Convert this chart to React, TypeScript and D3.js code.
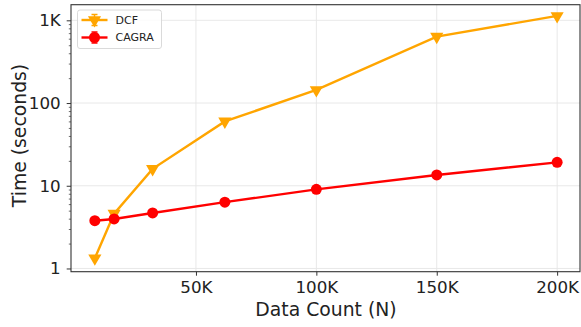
import React, { useEffect, useRef } from 'react';
import * as d3 from 'd3';

// data
const dataCount = [8000, 16000, 32000, 62000, 100000, 150000, 200000];
const dcfTime = [1.33, 4.6, 16, 60, 144, 635, 1130];
const cagraTime = [3.78, 3.97, 4.69, 6.33, 9.05, 13.5, 19.2];
const xTicks = [50000, 100000, 150000, 200000];
const xTickLabels = ['50K', '100K', '150K', '200K'];
const yTicks = [1, 10, 100, 1000];
const yTickLabels = ['1', '10', '100', '1K'];

const W = 581, H = 327;
const margin = { top: 4.7, right: 1, bottom: 55.3, left: 71 };
const FONT = 'DejaVu Sans, sans-serif';

export default function App() {
  const ref = useRef<SVGSVGElement>(null);

  useEffect(() => {
    const svg = d3.select(ref.current);
    svg.selectAll('*').remove();

    const iw = W - margin.left - margin.right;
    const ih = H - margin.top - margin.bottom;

    const x = d3.scaleLinear().domain([-1900, 209500]).range([0, iw]);
    const y = d3.scaleLog().domain([0.914, 1545]).range([ih, 0]);

    const g = svg.append('g').attr('transform', `translate(${margin.left},${margin.top})`);

    // grid
    g.selectAll('.gx').data(xTicks).join('line')
      .attr('x1', d => x(d)).attr('x2', d => x(d)).attr('y1', 0).attr('y2', ih)
      .attr('stroke', '#e5e5e5').attr('stroke-width', 0.9);
    g.selectAll('.gy').data(yTicks).join('line')
      .attr('y1', d => y(d)).attr('y2', d => y(d)).attr('x1', 0).attr('x2', iw)
      .attr('stroke', '#e5e5e5').attr('stroke-width', 0.9);

    // x axis
    const xAxis = g.append('g').attr('transform', `translate(0,${ih})`)
      .call(d3.axisBottom(x).tickValues(xTicks).tickFormat((d, i) => xTickLabels[i]).tickSize(4).tickPadding(5.5));
    xAxis.select('.domain').remove();
    xAxis.selectAll('line').attr('stroke', '#333').attr('stroke-width', 1);
    xAxis.selectAll('text').attr('font-family', FONT).attr('font-size', 16.7).attr('fill', '#222');

    // y axis, major + minor
    const minor: number[] = [];
    for (let e = 0; e < 4; e++) for (let m = 2; m <= 9; m++) {
      const v = m * Math.pow(10, e);
      if (v < 1545) minor.push(v);
    }
    const yMinor = g.append('g').call(d3.axisLeft(y).tickValues(minor).tickFormat(() => '').tickSize(2.2));
    yMinor.select('.domain').remove();
    yMinor.selectAll('line').attr('stroke', '#333').attr('stroke-width', 0.7);

    const yAxis = g.append('g')
      .call(d3.axisLeft(y).tickValues(yTicks).tickFormat((d, i) => yTickLabels[i]).tickSize(4.3).tickPadding(6));
    yAxis.select('.domain').remove();
    yAxis.selectAll('line').attr('stroke', '#333').attr('stroke-width', 1);
    yAxis.selectAll('text').attr('font-family', FONT).attr('font-size', 16.7).attr('fill', '#222');

    // frame
    g.append('rect').attr('width', iw).attr('height', ih)
      .attr('fill', 'none').attr('stroke', '#333').attr('stroke-width', 1.1);

    const line = d3.line<number>()
      .x((d, i) => x(dataCount[i]))
      .y(d => y(d));

    const tri = d3.symbol().type(d3.symbolTriangle).size(75);

    // DCF
    g.append('path').datum(dcfTime).attr('d', line)
      .attr('fill', 'none').attr('stroke', 'orange').attr('stroke-width', 2.4);
    g.selectAll('.dcf').data(dcfTime).join('path')
      .attr('d', tri)
      .attr('transform', (d, i) => `translate(${x(dataCount[i])},${y(d)}) rotate(180)`)
      .attr('fill', 'orange');

    // CAGRA
    g.append('path').datum(cagraTime).attr('d', line)
      .attr('fill', 'none').attr('stroke', 'red').attr('stroke-width', 2.4);
    g.selectAll('.cagra').data(cagraTime).join('circle')
      .attr('cx', (d, i) => x(dataCount[i])).attr('cy', d => y(d)).attr('r', 5.5)
      .attr('fill', 'red');

    // legend
    const lg = svg.append('g').attr('transform', 'translate(77.5,10)');
    lg.append('rect').attr('width', 84).attr('height', 38.5).attr('rx', 2.5)
      .attr('fill', 'white').attr('fill-opacity', 0.8).attr('stroke', '#d6d6d6').attr('stroke-width', 0.9);
    const items = [
      { name: 'DCF', color: 'orange', kind: 'tri', cy: 10 },
      { name: 'CAGRA', color: 'red', kind: 'circ', cy: 27.5 },
    ];
    items.forEach(it => {
      const row = lg.append('g').attr('transform', `translate(0,${it.cy})`);
      row.append('line').attr('x1', 4).attr('x2', 30).attr('stroke', it.color).attr('stroke-width', 2.4);
      row.append('line').attr('x1', 17).attr('x2', 17).attr('y1', -5.5).attr('y2', 5.5).attr('stroke', it.color).attr('stroke-width', 1.5);
      row.append('line').attr('x1', 14).attr('x2', 20).attr('y1', -5.5).attr('y2', -5.5).attr('stroke', it.color).attr('stroke-width', 1.5);
      row.append('line').attr('x1', 14).attr('x2', 20).attr('y1', 5.5).attr('y2', 5.5).attr('stroke', it.color).attr('stroke-width', 1.5);
      if (it.kind === 'tri') {
        row.append('path').attr('d', tri).attr('transform', 'translate(17,0) rotate(180)').attr('fill', it.color);
      } else {
        row.append('circle').attr('cx', 17).attr('r', 5.5).attr('fill', it.color);
      }
      row.append('text').attr('x', 38).attr('y', 0).attr('dy', '0.35em')
        .attr('font-family', FONT).attr('font-size', 11).attr('fill', '#222').text(it.name);
    });

    // axis titles
    svg.append('text').attr('x', 326).attr('y', 315.7)
      .attr('text-anchor', 'middle').attr('font-family', FONT).attr('font-size', 18.8).attr('fill', '#222')
      .text('Data Count (N)');
    svg.append('text').attr('transform', 'translate(26,135.5) rotate(-90)')
      .attr('text-anchor', 'middle').attr('font-family', FONT).attr('font-size', 18.8).attr('fill', '#222')
      .text('Time (seconds)');
  }, []);

  return <svg ref={ref} width={W} height={H} style={{ position: 'absolute', left: 0, top: 0, background: 'white' }} />;
}
